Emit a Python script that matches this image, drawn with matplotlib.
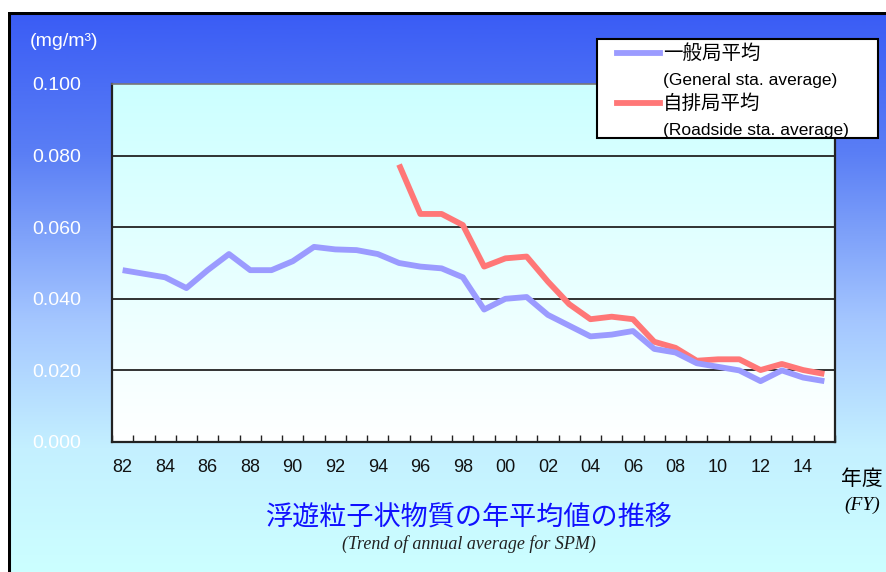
import numpy as np
import matplotlib
matplotlib.use('Agg')
import matplotlib.pyplot as plt
from matplotlib.colors import LinearSegmentedColormap
from matplotlib.lines import Line2D
from matplotlib.patches import Rectangle

plt.rcParams['font.family'] = ['Liberation Sans', 'Noto Sans CJK JP', 'DejaVu Sans']

# fiscal years 1982-2015
years = list(range(1982, 2016))
year_labels = ['82', '84', '86', '88', '90', '92', '94', '96', '98',
               '00', '02', '04', '06', '08', '10', '12', '14']

# general station average (mg/m3)
general = [0.048, 0.047, 0.046, 0.043, 0.048, 0.0525, 0.048, 0.048, 0.0505,
           0.0545, 0.0538, 0.0536, 0.0525, 0.050, 0.049, 0.0485, 0.046, 0.037,
           0.040, 0.0405, 0.0355, 0.0325, 0.0295, 0.030, 0.031, 0.026, 0.025,
           0.022, 0.021, 0.020, 0.017, 0.020, 0.018, 0.017]

# roadside station average (from FY1995)
road_years = list(range(1995, 2016))
roadside = [0.0775, 0.0637, 0.0637, 0.0606, 0.049, 0.0513, 0.0518, 0.0448,
            0.0385, 0.0343, 0.035, 0.0343, 0.028, 0.0263, 0.0227, 0.0231,
            0.0231, 0.0201, 0.0218, 0.0201, 0.019]

y_ticks = [0.000, 0.020, 0.040, 0.060, 0.080, 0.100]

W, H = 887, 572
fig = plt.figure(figsize=(W / 100, H / 100), dpi=100)
fig.patch.set_facecolor('white')

# outer blue panel with vertical gradient (top = blue)
bg = fig.add_axes([8 / W, 0, 1 - 8 / W, (H - 12) / H])
bg_cmap = LinearSegmentedColormap.from_list(
    'panel', [(0, '#3a5cf5'), (0.25, '#5a7ef5'), (0.55, '#a4c6ff'),
              (0.78, '#c4f0ff'), (1, '#ccffff')])
bg.imshow(np.linspace(0, 1, 256).reshape(-1, 1), cmap=bg_cmap, aspect='auto',
          origin='upper', extent=[0, 1, 0, 1])
bg.set_xlim(0, 1)
bg.set_ylim(0, 1)
bg.set_axis_off()
bg.plot([0.0012, 0.0012], [0, 1], color='black', lw=2.2)
bg.plot([0, 1], [0.998, 0.998], color='black', lw=2.2)

# plot area
ax = fig.add_axes([112 / W, 130 / H, 723 / W, 358 / H])
x = np.arange(len(years))
xr = np.array([years.index(y) for y in road_years])

plot_cmap = LinearSegmentedColormap.from_list('plot', ['#ffffff', '#ccffff'])
ax.imshow(np.linspace(0, 1, 256).reshape(-1, 1), cmap=plot_cmap, aspect='auto',
          origin='lower', extent=[-0.5, len(years) - 0.5, 0, 0.1], zorder=0)

for v in y_ticks[1:-1]:
    ax.axhline(v, color='#222222', lw=1.3, zorder=1)

ax.plot(xr, roadside, color='#ff7777', lw=4.2, solid_joinstyle='round',
        solid_capstyle='butt', zorder=3)
ax.plot(x, general, color='#9b9bff', lw=4.2, solid_joinstyle='round',
        solid_capstyle='butt', zorder=4)

ax.set_xlim(-0.5, len(years) - 0.5)
ax.set_ylim(0, 0.1)

ax.set_yticks(y_ticks)
ax.set_yticklabels([f'{v:.3f}' for v in y_ticks], color='white', fontsize=14)
ax.tick_params(axis='y', length=0, pad=22)

ax.set_xticks(x[::2])
ax.set_xticklabels(year_labels, fontsize=13, color='#111111')
ax.set_xticks(np.arange(len(years) + 1) - 0.5, minor=True)
ax.tick_params(axis='x', which='major', length=0, pad=12)
ax.tick_params(axis='x', which='minor', direction='in', length=5, width=1,
               color='#222222')

for side in ['left', 'bottom', 'right']:
    ax.spines[side].set_color('#222222')
    ax.spines[side].set_linewidth(1.6)
ax.spines['top'].set_color('#777777')
ax.spines['top'].set_linewidth(1.2)

# unit label
fig.text(30 / W, 1 - 42 / H, '(mg/m³)', color='white', fontsize=14,
         va='center', ha='left')

# axis title at right
fig.text(862 / W, 1 - 479 / H, '年度', fontsize=15, ha='center', va='center',
         family=['Noto Sans CJK JP', 'DejaVu Sans'])
fig.text(862 / W, 1 - 505 / H, '(FY)', fontsize=14, ha='center', va='center',
         style='italic', family=['Liberation Serif', 'DejaVu Serif'])

# titles
fig.text(469 / W, 1 - 517 / H, '浮遊粒子状物質の年平均値の推移', fontsize=19.5,
         color='#1010ff', ha='center', va='center',
         family=['Noto Sans CJK JP', 'DejaVu Sans'])
fig.text(469 / W, 1 - 544 / H, '(Trend of annual average for SPM)', fontsize=13,
         color='#222222', ha='center', va='center', style='italic',
         family=['Liberation Serif', 'DejaVu Serif'])

# legend box
fig.patches.append(Rectangle((597 / W, 1 - 138 / H), 281 / W, 99 / H,
                             transform=fig.transFigure, facecolor='white',
                             edgecolor='black', lw=1.5, zorder=5))
fig.lines.append(Line2D([617 / W, 660 / W], [1 - 53 / H, 1 - 53 / H],
                        transform=fig.transFigure, color='#9b9bff', lw=4.2,
                        zorder=6))
fig.lines.append(Line2D([617 / W, 660 / W], [1 - 103 / H, 1 - 103 / H],
                        transform=fig.transFigure, color='#ff7777', lw=4.2,
                        zorder=6))
fig.text(663 / W, 1 - 53 / H, '一般局平均', fontsize=14, va='center', zorder=7,
         family=['Noto Sans CJK JP', 'DejaVu Sans'])
fig.text(663 / W, 1 - 80 / H, '(General sta. average)', fontsize=12.5,
         va='center', zorder=7)
fig.text(663 / W, 1 - 103 / H, '自排局平均', fontsize=14, va='center', zorder=7,
         family=['Noto Sans CJK JP', 'DejaVu Sans'])
fig.text(663 / W, 1 - 130 / H, '(Roadside sta. average)', fontsize=12.5,
         va='center', zorder=7)

fig.savefig('out.png', dpi=100)
